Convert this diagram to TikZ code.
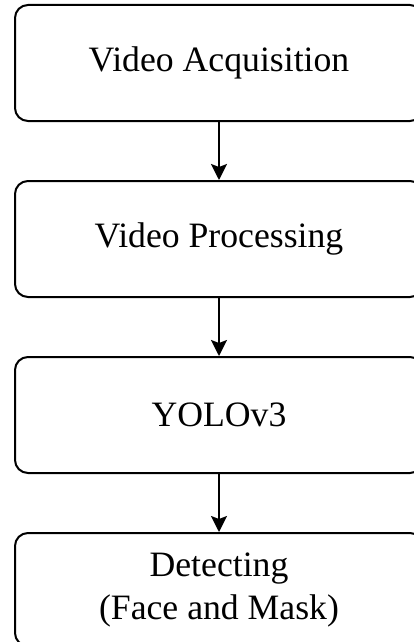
\documentclass[tikz,border=0pt]{standalone}
\usepackage{fontspec}
\setmainfont{Liberation Serif}
\usetikzlibrary{positioning,arrows.meta}
\begin{document}
\begin{tikzpicture}[>={Stealth[length=16pt,width=16pt,inset=3pt]},x=1pt,y=1pt,
	stage/.style={draw,line width=2pt,rounded corners=13pt,
		minimum width=408pt,minimum height=116pt,inner sep=0pt,
		align=center,font=\fontsize{35.7}{43}\selectfont},
	node distance=58pt]
	\useasboundingbox (0,0) rectangle (413,-642);
	\begin{scope}
		\node[stage] (acq) at (219,-63) {Video Acquisition};
		\node[stage,below=of acq] (proc) {Video Processing};
		\node[stage,below=of proc] (yolo) {YOLOv3};
		\node[stage,below=of yolo,minimum height=113pt] (det) {Detecting\\(Face and Mask)};
	\end{scope}
	\begin{scope}[line width=2pt]
		\draw[->] (acq.south) -- (proc.north);
		\draw[->] (proc.south) -- (yolo.north);
		\draw[->] (yolo.south) -- (det.north);
	\end{scope}
\end{tikzpicture}
\end{document}
